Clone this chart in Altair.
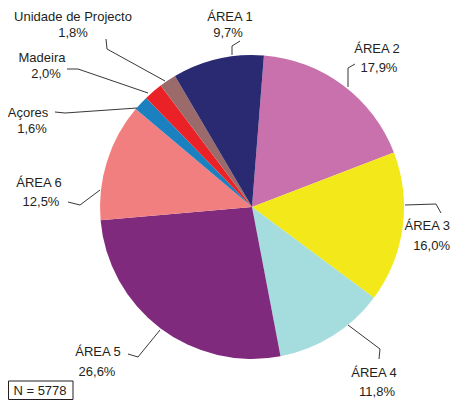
import math
import altair as alt
import pandas as pd

# ---- data ----
categories = ["ÁREA 2", "ÁREA 3", "ÁREA 4", "ÁREA 5", "ÁREA 6",
              "Açores", "Madeira", "Unidade de Projecto", "ÁREA 1"]
values = [17.9, 16.0, 11.8, 26.6, 12.5, 1.6, 2.0, 1.8, 9.7]
colors = ["#c871ac", "#f2e81a", "#a5dcde", "#7f2a7c", "#f27f80",
          "#1a80c0", "#ea2228", "#9b6a6a", "#2a2a72"]
n_text = "N = 5778"

# ---- layout (page pixel coords) ----
OFF = 8
W, H = 443, 392
CX, CY, R = 252, 207, 152
START_DEG = 4.5

label_pos = {  # (x1, y1, x2, y2, align) anchors of name line and percent line
    "ÁREA 1": (230, 17, 228, 33, "center"),
    "ÁREA 2": (377, 49, 379, 68, "center"),
    "ÁREA 3": (450, 226, 450, 246, "right"),
    "ÁREA 4": (374, 373, 377, 392, "center"),
    "ÁREA 5": (98, 352, 97, 372, "center"),
    "ÁREA 6": (39, 183, 41, 202, "center"),
    "Açores": (28, 113, 32, 129, "center"),
    "Madeira": (42, 58, 46, 74, "center"),
    "Unidade de Projecto": (73, 17, 73, 33, "center"),
}
leaders = {
    "Unidade de Projecto": [(106, 39), (107, 49), (165, 81)],
    "Madeira": [(67, 69), (78, 69), (148, 93)],
    "Açores": [(55, 112), (65, 113), (137, 108)],
    "ÁREA 1": [(240, 41), (232, 46), (232, 55)],
    "ÁREA 2": [(355, 64), (348, 68), (348, 87)],
    "ÁREA 3": [(405, 205), (436, 204), (441, 213)],
    "ÁREA 4": [(348, 325), (380, 349), (379, 359)],
    "ÁREA 5": [(160, 330), (138, 357), (128, 354)],
    "ÁREA 6": [(100, 190), (80, 205), (68, 202)],
}

pie_df = pd.DataFrame({"cat": categories, "val": values,
                       "ord": list(range(len(categories)))})

txt_rows = []
for c, v in zip(categories, values):
    x1, y1, x2, y2, al = label_pos[c]
    txt_rows.append({"x": x1 - OFF, "y": y1 - OFF, "t": c, "al": al})
    txt_rows.append({"x": x2 - OFF, "y": y2 - OFF, "al": al,
                     "t": f"{v:.1f}".replace(".", ",") + "%"})
txt_df = pd.DataFrame(txt_rows)

line_rows = []
for c, pts in leaders.items():
    for i, (px, py) in enumerate(pts):
        line_rows.append({"cat": c, "i": i, "x": px - OFF, "y": py - OFF})
line_df = pd.DataFrame(line_rows)

box_df = pd.DataFrame([{"x": 0.5, "x2": 73 - OFF, "y": 381 - OFF, "y2": 399.5 - OFF,
                        "tx": 40 - OFF, "ty": 390.5 - OFF, "t": n_text}])

xs = alt.Scale(domain=[0, W], range=[0, W])
ys = alt.Scale(domain=[0, H], range=[0, H])
FONT = "Liberation Sans"
TXT = "#231f20"

start = math.radians(START_DEG)
pie = alt.Chart(pie_df).mark_arc(outerRadius=R, stroke=None).encode(
    theta=alt.Theta("val:Q", stack=True,
                    scale=alt.Scale(range=[start, start + 2 * math.pi])),
    order=alt.Order("ord:Q"),
    color=alt.Color("cat:N", scale=alt.Scale(domain=categories, range=colors),
                    legend=None),
    x=alt.value(CX - OFF),
    y=alt.value(CY - OFF),
)

lines = alt.Chart(line_df).mark_line(color="#231f20", strokeWidth=0.9).encode(
    x=alt.X("x:Q", scale=xs, axis=None),
    y=alt.Y("y:Q", scale=ys, axis=None),
    detail="cat:N",
    order="i:Q",
)

def text_layer(al):
    return alt.Chart(txt_df).transform_filter(
        alt.datum.al == al
    ).mark_text(font=FONT, fontSize=13, color=TXT,
                align=al, baseline="middle").encode(
        x=alt.X("x:Q", scale=xs, axis=None),
        y=alt.Y("y:Q", scale=ys, axis=None),
        text="t:N",
    )

box = alt.Chart(box_df).mark_rect(fill="white", stroke="#231f20",
                                  strokeWidth=1).encode(
    x=alt.X("x:Q", scale=xs, axis=None), x2="x2:Q",
    y=alt.Y("y:Q", scale=ys, axis=None), y2="y2:Q",
)
box_text = alt.Chart(box_df).mark_text(font=FONT, fontSize=13, color=TXT,
                                       align="center", baseline="middle").encode(
    x=alt.X("tx:Q", scale=xs, axis=None),
    y=alt.Y("ty:Q", scale=ys, axis=None),
    text="t:N",
)

chart = alt.layer(pie, lines, text_layer("center"), text_layer("right"),
                  box, box_text).properties(
    width=W, height=H, autosize=alt.AutoSizeParams(type="none"), padding=0
).configure_view(stroke=None).resolve_scale(color="independent")

chart.save("out.html", embed_options={"renderer": "svg", "actions": False})
